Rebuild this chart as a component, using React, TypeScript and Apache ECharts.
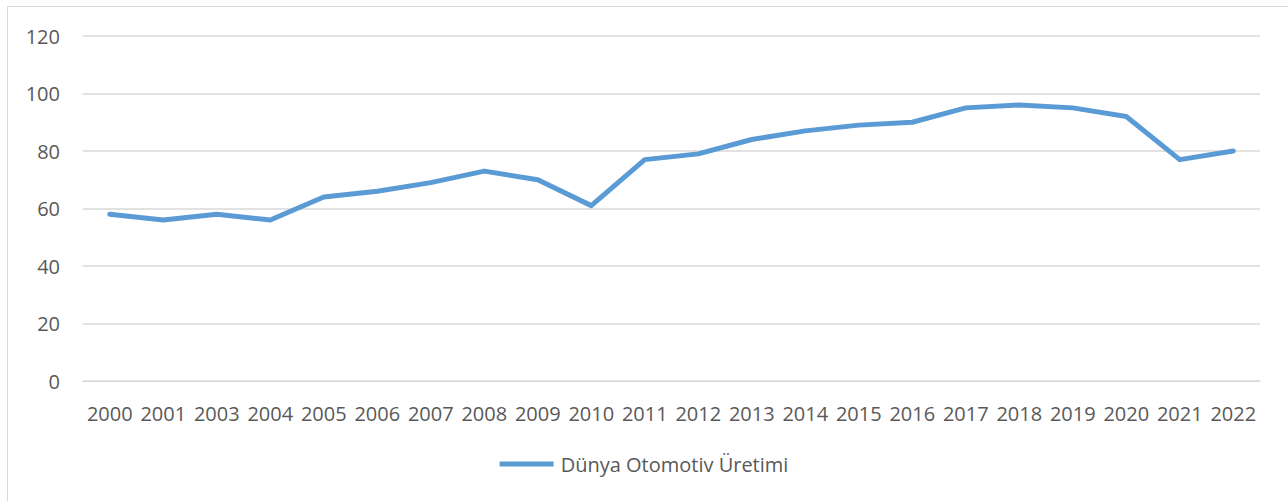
import React, { useEffect, useRef } from "react";
import * as echarts from "echarts";

const years = ["2000", "2001", "2003", "2004", "2005", "2006", "2007", "2008", "2009", "2010", "2011", "2012", "2013", "2014", "2015", "2016", "2017", "2018", "2019", "2020", "2021", "2022"];
const production = [58, 56, 58, 56, 64, 66, 69, 73, 70, 61, 77, 79, 84, 87, 89, 90, 95, 96, 95, 92, 77, 80];
const seriesName = "Dünya Otomotiv Üretimi";

const FONT = "'Open Sans', 'Noto Sans', sans-serif";
const TEXT = "#595959";
const GRID = "#D9D9D9";
const BLUE = "#5B9BD5";

export default function App() {
  const ref = useRef<HTMLDivElement>(null);
  useEffect(() => {
    if (!ref.current) return;
    const chart = echarts.init(ref.current, undefined, { renderer: "svg" });
    chart.setOption({
      animation: false,
      backgroundColor: "#ffffff",
      textStyle: { fontFamily: FONT },
      graphic: [
        {
          type: "rect",
          shape: { x: 7.5, y: 6.5, width: 1400, height: 700 },
          style: { fill: "none", stroke: GRID, lineWidth: 1 },
          silent: true,
        },
      ],
      grid: { left: 83, right: 28, top: 36, bottom: 120, containLabel: false },
      xAxis: {
        type: "category",
        data: years,
        boundaryGap: true,
        axisLine: { show: true, lineStyle: { color: GRID, width: 1 } },
        axisTick: { show: false },
        axisLabel: { interval: 0, color: TEXT, fontSize: 20, fontFamily: FONT, margin: 22 },
        splitLine: { show: false },
      },
      yAxis: {
        type: "value",
        min: 0,
        max: 120,
        interval: 20,
        axisLine: { show: false },
        axisTick: { show: false },
        axisLabel: { color: TEXT, fontSize: 20, fontFamily: FONT, margin: 23 },
        splitLine: { show: true, lineStyle: { color: GRID, width: 1.5 } },
      },
      legend: {
        show: true,
        bottom: 22,
        left: "center",
        itemWidth: 54,
        itemHeight: 14,
        itemGap: 10,
        textStyle: { color: TEXT, fontSize: 20, fontFamily: FONT, padding: [0, 0, 0, 2] },
        data: [{ name: seriesName, icon: "path://M0,6 L54,6 L54,11 L0,11 Z" }],
      },
      series: [
        {
          name: seriesName,
          type: "line",
          data: production,
          showSymbol: false,
          symbol: "none",
          lineStyle: { color: BLUE, width: 5, cap: "round", join: "round" },
          itemStyle: { color: BLUE },
        },
      ],
    });
    return () => chart.dispose();
  }, []);
  return (
    <div
      ref={ref}
      style={{ position: "fixed", left: 0, top: 0, width: 1288, height: 501, background: "#fff" }}
    />
  );
}
